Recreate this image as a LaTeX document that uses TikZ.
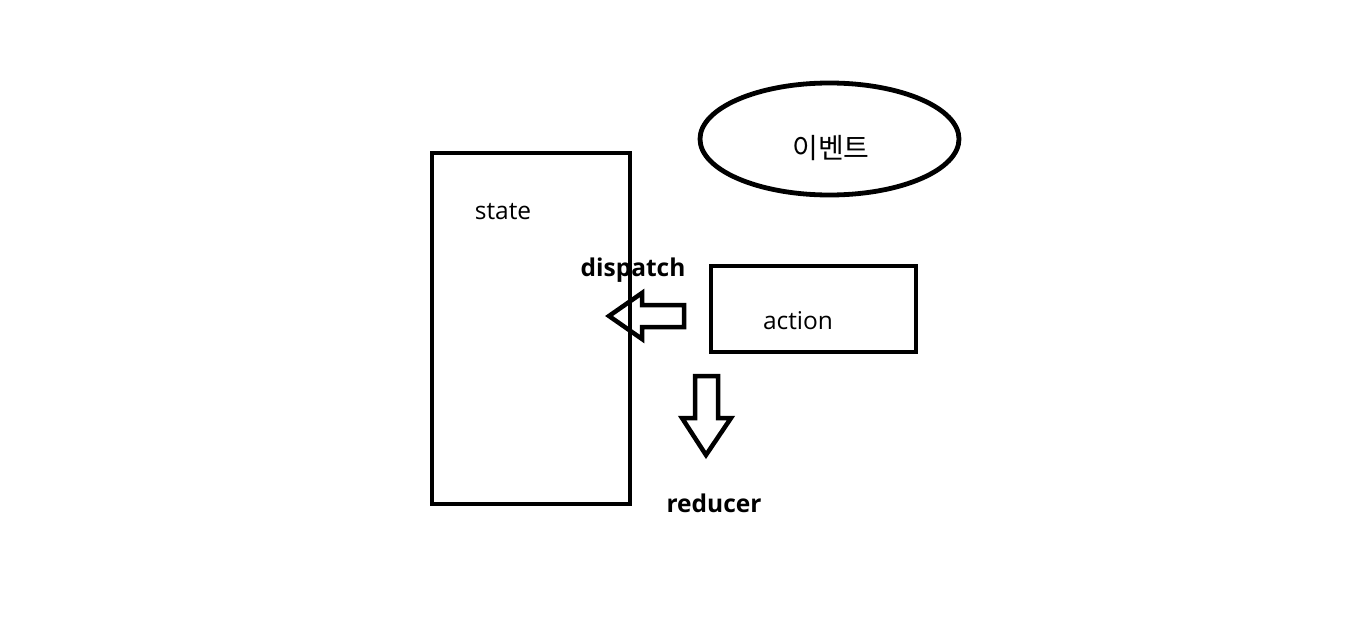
\documentclass[tikz,border=0pt]{standalone}
\usepackage{fontspec}
\setmainfont{Open Sans}
\newfontfamily\kr{Noto Sans CJK KR}
\usetikzlibrary{shapes.geometric}
\begin{document}
\begin{tikzpicture}[x=1pt,y=-1pt,
  shapeline/.style={draw=black,line width=4.8pt},
  lbl/.style={font=\fontsize{24.5}{28}\selectfont,inner sep=0pt},
  blbl/.style={font=\fontsize{24.5}{28}\selectfont\bfseries,inner sep=0pt},
  arrowshape/.style={draw=black,line width=4.5pt,line join=miter}]
\useasboundingbox (0,0) rectangle (1350,629);
% state box
\node[shapeline,minimum width=198pt,minimum height=351pt,inner sep=0pt] (state) at (531,328.5) {};
\node[lbl] (statetxt) at (503,212) {state};
% event ellipse
\node[shapeline,ellipse,minimum width=259pt,minimum height=112pt,inner sep=0pt] (event) at (829.5,139) {};
\node[lbl,font=\fontsize{28}{32}\selectfont] (eventtxt) at (831,148) {\kr 이벤트};
% action box
\node[shapeline,minimum width=205pt,minimum height=86pt,inner sep=0pt] (action) at (813.5,309) {};
\node[lbl] (actiontxt) at (798,321) {action};
% dispatch arrow (left)
\coordinate (dtip) at (609,316);
\draw[arrowshape] (dtip) -- (642,293) -- (642,305) -- (684,305) -- (684,327) -- (642,327) -- (642,339) -- cycle;
\node[blbl] (dispatch) at (633,270) {dispatch};
% reducer arrow (down)
\coordinate (rtip) at (706,455);
\draw[arrowshape] (rtip) -- (682,418) -- (695,418) -- (695,376) -- (718,376) -- (718,418) -- (731,418) -- cycle;
\node[blbl] (reducer) at (714,503) {reducer};
\end{tikzpicture}
\end{document}
